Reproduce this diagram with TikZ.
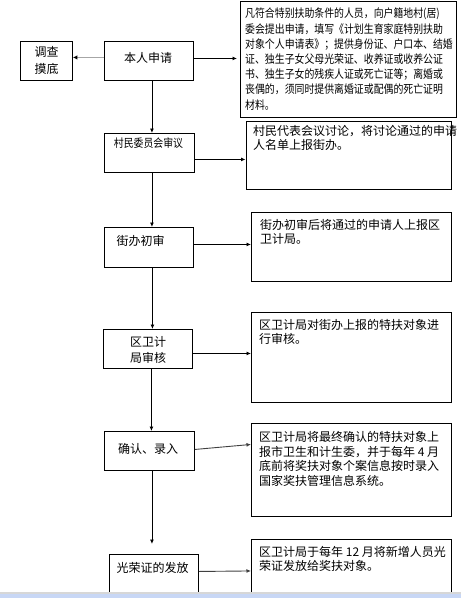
\documentclass[tikz,border=0pt]{standalone}
\usepackage{fontspec}
\newfontfamily\cjk{Noto Sans CJK SC}
\newfontfamily\cjknarrow[FakeStretch=0.86]{Noto Sans CJK SC}
\usetikzlibrary{arrows.meta}
\definecolor{stripblue}{RGB}{200,215,245}
\definecolor{stripgray}{RGB}{215,215,215}
\tikzset{
  box/.style={draw, line width=0.9pt, inner sep=0pt, anchor=north west},
  lbl/.style={inner sep=0pt, align=center, font=\cjk\fontsize{12}{16}\selectfont},
  desc/.style={inner sep=0pt, align=left, anchor=north west, font=\cjk\fontsize{12}{14}\selectfont},
  conn/.style={line width=0.9pt, -{Latex[length=4.5pt,width=4pt]}},
}
\begin{document}
\begin{tikzpicture}[x=1pt,y=-1pt]
\useasboundingbox (0,0) rectangle (461,598);
% left boxes
\node[box, minimum width=52pt, minimum height=39pt] (ds) at (20,41) {};
\node[box, minimum width=89pt, minimum height=39pt] (br) at (104,41) {};
\node[box, minimum width=90pt, minimum height=39pt] (cw) at (104,133) {};
\node[box, minimum width=89pt, minimum height=40pt] (jb) at (104,227) {};
\node[box, minimum width=89pt, minimum height=39pt] (qw) at (103,329) {};
\node[box, minimum width=90pt, minimum height=39pt] (qr) at (104,431) {};
\node[box, minimum width=89pt, minimum height=50pt] (gr) at (109,554) {};
% left labels
\node[lbl, font=\cjk\fontsize{12}{16.5}\selectfont] (tds) at (46.5,60.5) {调查\\摸底};
\node[lbl] (tbr) at (148,58) {本人申请};
\node[lbl, font=\cjknarrow\fontsize{11.5}{13}\selectfont] (tcw) at (148.5,143) {村民委员会审议};
\node[lbl] (tjb) at (140.5,241) {街办初审};
\node[lbl] (tqw) at (148,350) {区卫计\\局审核};
\node[lbl] (tqr) at (148,449) {确认、录入};
\node[lbl] (tgr) at (152.5,568) {光荣证的发放};
% right boxes
\node[box, minimum width=216pt, minimum height=116pt] (r1) at (240,1) {};
\node[box, minimum width=205.5pt, minimum height=68pt] (r2) at (245.5,121) {};
\node[box, minimum width=200pt, minimum height=69pt] (r3) at (251,212) {};
\node[box, minimum width=200pt, minimum height=90pt] (r4) at (251,312) {};
\node[box, minimum width=200pt, minimum height=93pt] (r5) at (251,423) {};
\node[box, minimum width=200pt, minimum height=65pt] (r6) at (251,539) {};
% right texts
\node[desc, font=\cjknarrow\fontsize{11.5}{15.2}\selectfont] (t1) at (245,8) {凡符合特别扶助条件的人员，向户籍地村(居)\\委会提出申请，填写《计划生育家庭特别扶助\\对象个人申请表》；提供身份证、户口本、结婚\\证、独生子女父母光荣证、收养证或收养公证\\书、独生子女的残疾人证或死亡证等；离婚或\\丧偶的，须同时提供离婚证或配偶的死亡证明\\材料。};
\node[desc] (t2) at (253,125) {村民代表会议讨论，将讨论通过的申请\\人名单上报街办。};
\node[desc] (t3) at (260,219) {街办初审后将通过的申请人上报区\\卫计局。};
\node[desc] (t4) at (259,319) {区卫计局对街办上报的特扶对象进\\行审核。};
\node[desc, font=\cjk\fontsize{12}{14.7}\selectfont] (t5) at (259,431) {区卫计局将最终确认的特扶对象上\\报市卫生和计生委，并于每年 4 月\\底前将奖扶对象个案信息按时录入\\国家奖扶管理信息系统。};
\node[desc] (t6) at (259,546) {区卫计局于每年 12 月将新增人员光\\荣证发放给奖扶对象。};
% connectors
\draw[conn, line width=1.8pt, gray!70, -{Latex[length=4.5pt,width=4.5pt,black]}] ([yshift=3.5pt]br.west) -- ([yshift=3.5pt]ds.east);
\draw[conn] ([yshift=2.5pt]br.east) -- ([yshift=2.5pt,xshift=-3pt]br.east -| r1.west);
\draw[conn] ([xshift=3pt]br.south) -- ([xshift=3pt]br.south |- cw.north);
\draw[conn] ([yshift=-6.5pt]cw.east) -- ([yshift=-6.5pt]cw.east -| r2.west);
\draw[conn] ([xshift=2.5pt]cw.south) -- ([xshift=2.5pt]cw.south |- jb.north);
\draw[conn] ([yshift=3pt]jb.east) -- ([yshift=3pt]jb.east -| r3.west);
\draw[conn] ([xshift=3.5pt]jb.south) -- ([xshift=3.5pt]jb.south |- qw.north);
\draw[conn] ([yshift=-4.5pt]qw.east) -- ([yshift=-4.5pt]qw.east -| r4.west);
\draw[conn] ([xshift=3.5pt]qw.south) -- ([xshift=3.5pt]qw.south |- qr.north);
\draw[conn, draw=black!75] ([yshift=1.5pt]qr.east) -- ([yshift=6.5pt]qr.east -| r5.west);
\draw[conn, shorten >=10pt] ([xshift=2.5pt]qr.south) -- ([xshift=2.5pt]qr.south |- gr.north);
\draw[conn, draw=black!75] ([yshift=8pt]gr.east) -- ([yshift=8.5pt]gr.east -| r6.west);
% window edge at the bottom
\fill[stripgray] (0,592) rectangle (461,593.5);
\fill[stripblue] (0,593.5) rectangle (461,598);
\end{tikzpicture}
\end{document}
